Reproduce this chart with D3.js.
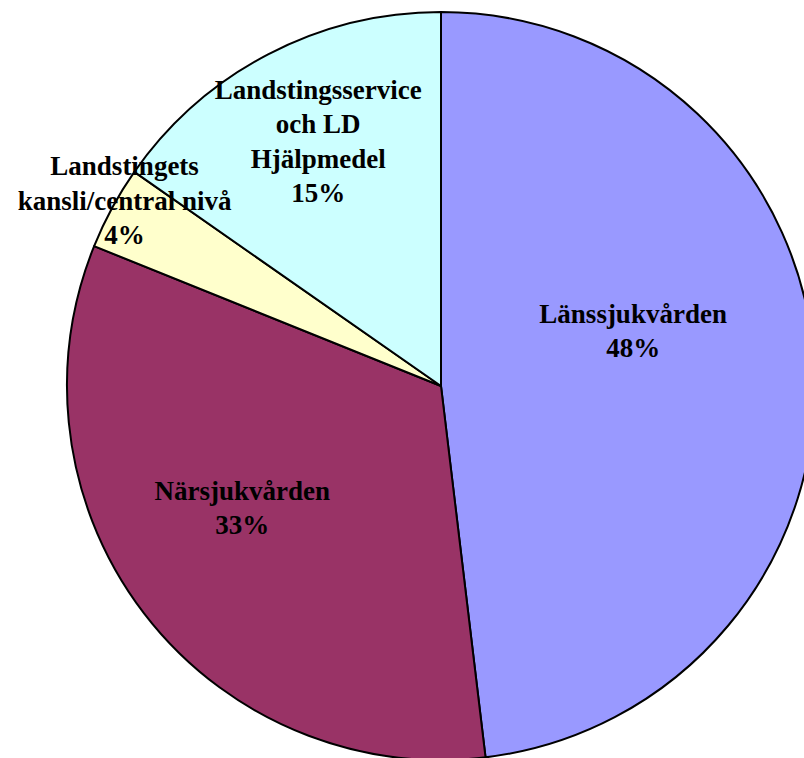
<!DOCTYPE html>
<html>
<head>
<meta charset="utf-8">
<script src="https://cdn.jsdelivr.net/npm/d3@7"></script>
<style>
  body { margin: 0; background: #fff; overflow: hidden; }
  svg { display: block; }
</style>
</head>
<body>
<script>
// data
const categories = ["Länssjukvården", "Närsjukvården", "Landstingets kansli/central nivå", "Landstingsservice och LD Hjälpmedel"];
const values = [48.1, 33.0, 3.6, 15.3];
const percentLabels = ["48%", "33%", "4%", "15%"];
const labelLines = [
  ["Länssjukvården"],
  ["Närsjukvården"],
  ["Landstingets", "kansli/central nivå"],
  ["Landstingsservice", "och LD", "Hjälpmedel"]
];
const colors = ["#9999FF", "#993366", "#FFFFCC", "#CCFFFF"];

// width and height
const w = 804;
const h = 758;
const cx = 441;
const cy = 386;
const r = 374;

// label placement: distance from centre and angle shift (degrees) from slice middle
const labelDist = [200, 233, 367, 274];
const labelShift = [-12.7, 6.0, 2, 0.9];
const lineH = 34.5;

const svg = d3
  .select("body")
  .append("svg")
  .attr("width", w)
  .attr("height", h);

const pie = d3.pie().sort(null).value((d) => d);
const arcs = pie(values);
const arc = d3.arc().innerRadius(0).outerRadius(r);

const g = svg.append("g").attr("transform", `translate(${cx},${cy})`);

// slices
g.selectAll("path")
  .data(arcs)
  .enter()
  .append("path")
  .attr("d", arc)
  .attr("fill", (d, i) => colors[i])
  .attr("stroke", "#000")
  .attr("stroke-width", 2)
  .attr("stroke-linejoin", "round");

// labels
arcs.forEach((d, i) => {
  const mid = (d.startAngle + d.endAngle) / 2 + (labelShift[i] * Math.PI) / 180;
  const x = Math.sin(mid) * labelDist[i];
  const y = -Math.cos(mid) * labelDist[i];
  const lines = [...labelLines[i], percentLabels[i]];
  const top = y - ((lines.length - 1) * lineH) / 2;
  const t = g
    .append("text")
    .attr("text-anchor", "middle")
    .attr("font-family", "'Liberation Serif', 'Times New Roman', serif")
    .attr("font-weight", "bold")
    .attr("font-size", 27)
    .attr("fill", "#000");
  lines.forEach((line, j) => {
    t.append("tspan")
      .attr("x", x)
      .attr("y", top + j * lineH)
      .attr("dy", "0.35em")
      .text(line);
  });
});
</script>
</body>
</html>
